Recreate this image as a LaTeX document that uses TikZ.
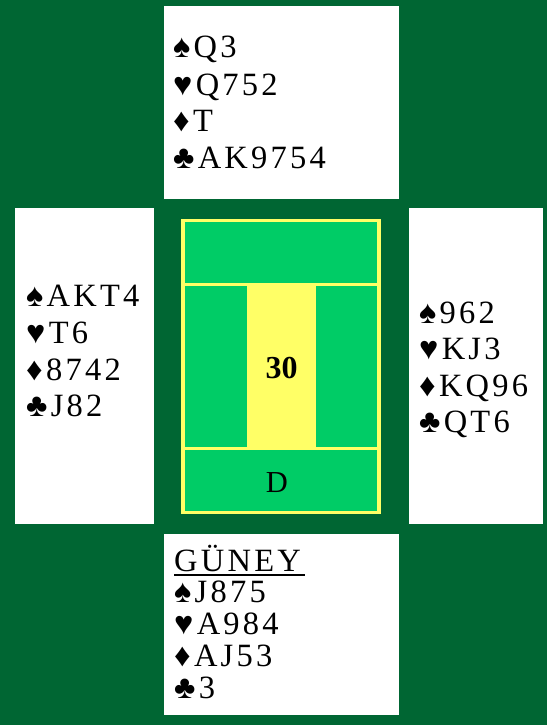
\documentclass[tikz,border=0pt]{standalone}
\usepackage{fontspec}
\setmainfont{Liberation Serif}
\newfontfamily\spacedfont{Liberation Serif}[LetterSpace=10]
\definecolor{felt}{RGB}{0,102,51}
\definecolor{tablegreen}{RGB}{0,204,102}
\definecolor{tableyellow}{RGB}{255,255,102}
\tikzset{
  handbox/.style={fill=white, draw=none, inner sep=0pt, anchor=north west},
  cell/.style={fill=tablegreen, draw=none, inner sep=0pt, anchor=north west},
  frame/.style={fill=tableyellow, draw=none, inner sep=0pt, anchor=north west},
  cardline/.style={inner sep=0pt, anchor=base west, font=\spacedfont\fontsize{32.5}{36}\selectfont},
  centretext/.style={inner sep=0pt, anchor=base, font=\fontsize{30.5}{36}\selectfont}
}
\begin{document}
\begin{tikzpicture}[x=1pt,y=-1pt]
\useasboundingbox (0,0) rectangle (547,725);
\fill[felt] (0,0) rectangle (547,725);
% hand boxes
\node[handbox, minimum width=235pt, minimum height=193pt] (nbox) at (164,6) {};
\node[handbox, minimum width=139pt, minimum height=316pt] (wbox) at (15,208) {};
\node[handbox, minimum width=134pt, minimum height=316pt] (ebox) at (409,208) {};
\node[handbox, minimum width=235pt, minimum height=181pt] (sbox) at (164,534) {};
% centre table
\node[frame, minimum width=200pt, minimum height=295pt] (tframe) at (181,219) {};
\node[cell, minimum width=192pt, minimum height=61pt] (ctop) at (185,222) {};
\node[cell, minimum width=62pt, minimum height=161pt] (cleft) at (185,286) {};
\node[cell, minimum width=61pt, minimum height=161pt] (cright) at (316,286) {};
\node[cell, minimum width=192pt, minimum height=61pt] (cbot) at (185,450) {};
\node[centretext, font=\bfseries\fontsize{32}{36}\selectfont] (score) at (281.5,378) {30};
\node[centretext] (dealer) at (277,492) {D};
% North
\node[cardline] (n1) at (173,58) {♠Q3};
\node[cardline] (n2) at (173,95) {♥Q752};
\node[cardline] (n3) at (173,131) {♦T};
\node[cardline] (n4) at (173,168) {♣AK9754};
% West
\node[cardline] (w1) at (26,306) {♠AKT4};
\node[cardline] (w2) at (26,343) {♥T6};
\node[cardline] (w3) at (26,380) {♦8742};
\node[cardline] (w4) at (26,416) {♣J82};
% East
\node[cardline] (e1) at (419,323) {♠962};
\node[cardline] (e2) at (419,359) {♥KJ3};
\node[cardline] (e3) at (419,396) {♦KQ96};
\node[cardline] (e4) at (419,432) {♣QT6};
% South
\node[cardline] (sname) at (174,571) {GÜNEY};
\draw[line width=2pt] ([yshift=-3.5pt]sname.base west) -- ([yshift=-3.5pt,xshift=4pt]sname.base east);
\node[cardline] (s1) at (174,602) {♠J875};
\node[cardline] (s2) at (174,634) {♥A984};
\node[cardline] (s3) at (174,666) {♦AJ53};
\node[cardline] (s4) at (174,698) {♣3};
\end{tikzpicture}
\end{document}
